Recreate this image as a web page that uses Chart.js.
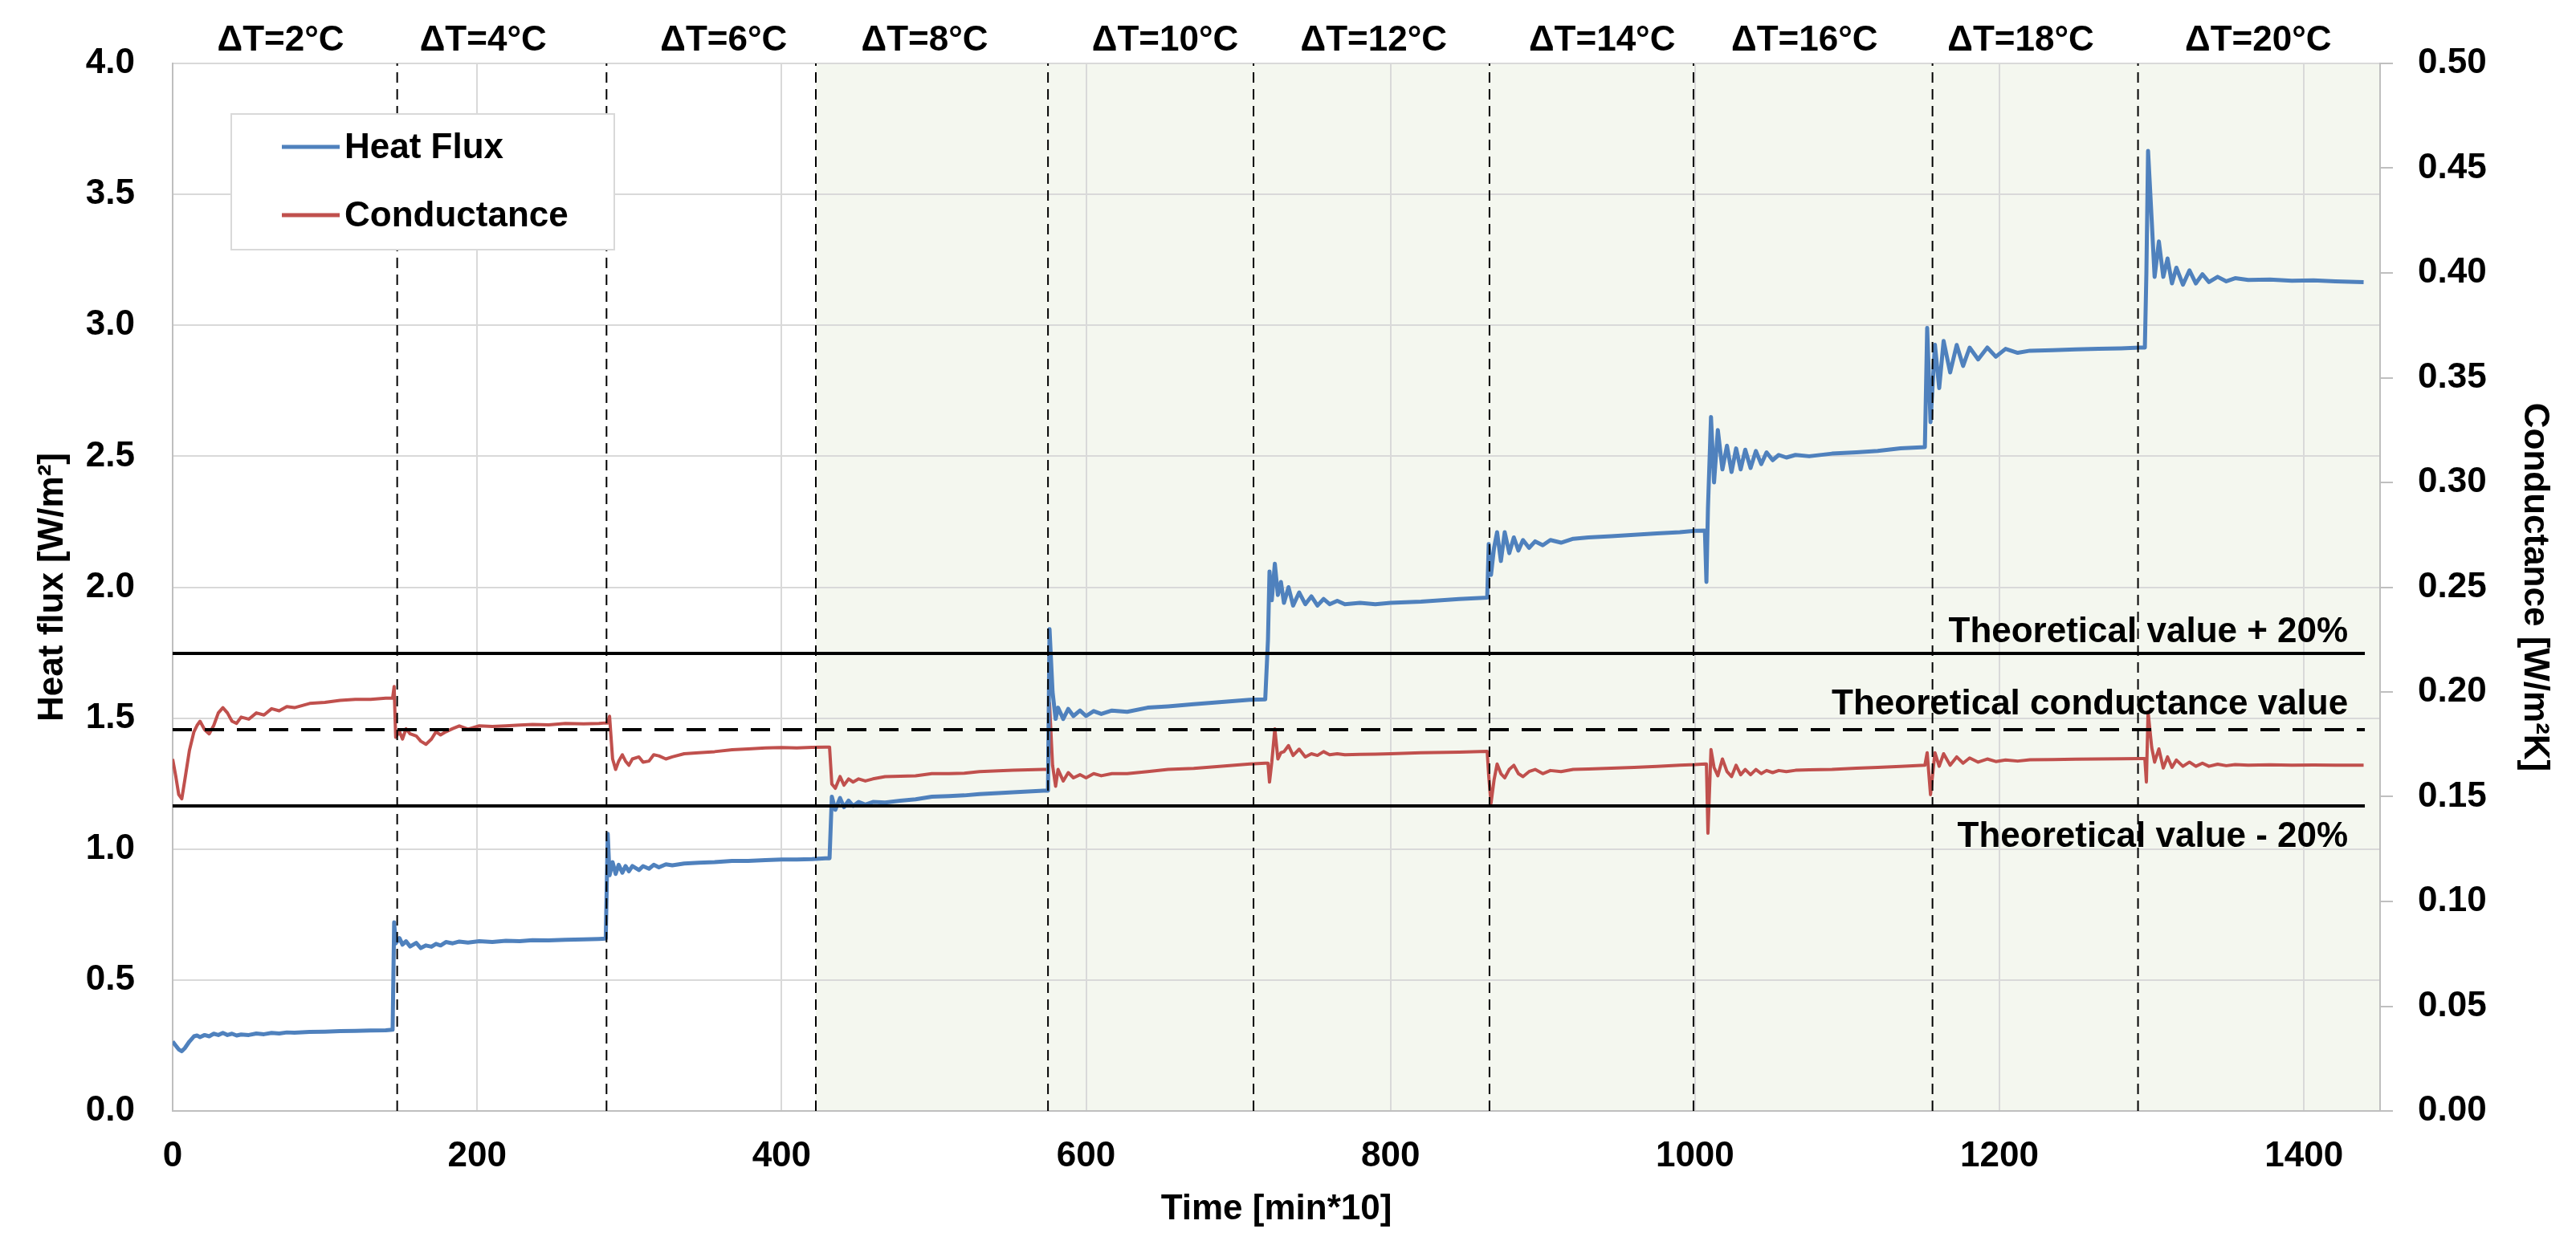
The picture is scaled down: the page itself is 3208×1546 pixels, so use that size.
<!DOCTYPE html>
<html>
<head>
<meta charset="utf-8">
<title>Heat flux and conductance</title>
<script src="https://cdn.jsdelivr.net/npm/chart.js@4.4.1/dist/chart.umd.min.js"></script>
<style>
  html, body { margin: 0; padding: 0; background: #fff; }
  #wrap { width: 3208px; height: 1546px; position: relative; }
</style>
</head>
<body>
<div id="wrap"><canvas id="chart"></canvas></div>
<script>
// time axis in [min*10], one row per ΔT step
const time = [
  0, 2, 4, 6, 8, 11, 14, 16, 18, 21, 24, 27, 30, 33, 36, 39, 42, 45, 50, 55, 60, 65, 70, 75, 80, 90, 100, 110, 120, 130, 140, 144.5,
  145.5, 146.5, 149, 151, 153.3, 156, 160, 163, 166.4, 170, 173, 176, 179.5, 184, 188.3, 194, 201.4, 210, 218.9, 228, 236.4, 247, 258, 270, 280, 284.5,
  285.8, 287, 289, 291, 293, 295.4, 297.5, 299.7, 302, 306.3, 309, 312.9, 316, 319.4, 324, 328.2, 336, 345.6, 356, 367.5, 378, 389.4, 400, 410, 420, 428.8, 431.5,
  433, 435.3, 438.4, 441, 444, 447, 450.6, 455, 460, 468, 478, 488, 498.7, 510, 520, 530, 542.4, 552, 562, 572, 575,
  576, 578, 580, 581.6, 585, 588.3, 591.7, 596, 600, 605, 610, 617, 627, 640.4, 653.9, 670.7, 687.6, 707.6, 717.7,
  719.5, 720.5, 722, 724, 726, 728, 730, 733, 736, 740, 744, 748, 752, 756, 760, 765, 770, 780, 790, 800, 820, 845, 863.5,
  864.5, 866, 868, 870, 872.5, 875, 878, 881, 884, 887, 891, 895, 900, 905, 912, 920, 930, 945, 960, 975, 990, 1000, 1006.5,
  1007.5, 1008.5, 1010.5, 1012.5, 1015, 1018, 1021, 1024, 1027, 1030, 1033, 1036.5, 1040, 1043.5, 1047, 1051, 1055, 1060, 1066, 1075, 1090, 1106, 1120, 1135, 1151,
  1152.5, 1154.7, 1157.6, 1160.4, 1163.3, 1167.6, 1171.9, 1176.1, 1180.4, 1186, 1192, 1197.6, 1204, 1212, 1220, 1235, 1250, 1265, 1280, 1292, 1295.5,
  1296.5, 1297.6, 1300, 1301.9, 1304.7, 1307.6, 1310.4, 1313.3, 1316.2, 1320.5, 1324.8, 1329, 1333.3, 1337.6, 1343.3, 1349, 1354.8, 1363.4, 1377.7, 1392, 1406.3, 1420.6, 1439.2
];

// heat flux [W/m2], left axis
const heatFlux = [
  0.265, 0.25, 0.235, 0.228, 0.24, 0.265, 0.285, 0.288, 0.282, 0.29, 0.285, 0.295, 0.29, 0.298, 0.29, 0.295, 0.288, 0.292, 0.29, 0.296, 0.293, 0.298, 0.296, 0.30, 0.299, 0.302, 0.303, 0.305, 0.306, 0.307, 0.308, 0.31,
  0.72, 0.64, 0.66, 0.635, 0.648, 0.628, 0.642, 0.622, 0.632, 0.627, 0.638, 0.632, 0.645, 0.64, 0.647, 0.643, 0.648, 0.645, 0.65, 0.648, 0.652, 0.651, 0.654, 0.655, 0.657, 0.658,
  1.058, 0.90, 0.95, 0.905, 0.94, 0.91, 0.935, 0.915, 0.935, 0.92, 0.935, 0.925, 0.94, 0.93, 0.942, 0.938, 0.945, 0.948, 0.95, 0.955, 0.955, 0.958, 0.96, 0.96, 0.962, 0.965, 0.965,
  1.20, 1.15, 1.195, 1.16, 1.185, 1.165, 1.18, 1.17, 1.18, 1.178, 1.185, 1.19, 1.20, 1.202, 1.205, 1.21, 1.214, 1.217, 1.22, 1.223, 1.223,
  1.84, 1.60, 1.497, 1.54, 1.497, 1.535, 1.508, 1.529, 1.508, 1.527, 1.516, 1.529, 1.524, 1.54, 1.545, 1.553, 1.561, 1.57, 1.572,
  1.80, 2.06, 1.95, 2.09, 1.97, 2.02, 1.94, 2.0, 1.93, 1.98, 1.935, 1.965, 1.93, 1.955, 1.935, 1.948, 1.935, 1.94, 1.935, 1.94, 1.945, 1.955, 1.96,
  2.165, 2.047, 2.15, 2.21, 2.10, 2.21, 2.13, 2.19, 2.14, 2.18, 2.15, 2.175, 2.16, 2.18, 2.17, 2.185, 2.19, 2.195, 2.2, 2.205, 2.21, 2.215, 2.216,
  2.02, 2.30, 2.65, 2.40, 2.60, 2.45, 2.54, 2.44, 2.53, 2.45, 2.525, 2.455, 2.52, 2.47, 2.515, 2.485, 2.505, 2.495, 2.505, 2.50, 2.51, 2.515, 2.52, 2.53, 2.535,
  2.99, 2.63, 2.926, 2.76, 2.94, 2.82, 2.925, 2.845, 2.915, 2.87, 2.915, 2.88, 2.91, 2.895, 2.903, 2.905, 2.908, 2.91, 2.912, 2.915, 2.915,
  3.2, 3.666, 3.40, 3.185, 3.32, 3.185, 3.255, 3.16, 3.22, 3.155, 3.21, 3.16, 3.195, 3.165, 3.185, 3.168, 3.18, 3.173, 3.175, 3.17, 3.172, 3.168, 3.165
];

// conductance [W/m2K], right axis
const conductance = [
  0.168, 0.160, 0.151, 0.149, 0.158, 0.172, 0.181, 0.184, 0.186, 0.182, 0.180, 0.184, 0.190, 0.1925, 0.19, 0.186, 0.185, 0.188, 0.187, 0.19, 0.189, 0.192, 0.191, 0.193, 0.1925, 0.1945, 0.195, 0.196, 0.1965, 0.1965, 0.197, 0.197,
  0.2026, 0.1784, 0.181, 0.1775, 0.1824, 0.180, 0.179, 0.1765, 0.175, 0.1775, 0.181, 0.1795, 0.181, 0.1825, 0.1838, 0.1822, 0.1838, 0.1835, 0.1838, 0.1842, 0.1845, 0.1843, 0.185, 0.1848, 0.185, 0.1852,
  0.1852, 0.1884, 0.168, 0.163, 0.167, 0.170, 0.167, 0.165, 0.168, 0.169, 0.1665, 0.167, 0.170, 0.1695, 0.168, 0.169, 0.1705, 0.171, 0.1715, 0.1724, 0.1728, 0.1733, 0.1735, 0.1733, 0.1736, 0.1737, 0.1737,
  0.156, 0.154, 0.1596, 0.1555, 0.1585, 0.157, 0.1585, 0.1575, 0.1585, 0.1596, 0.1598, 0.160, 0.161, 0.161, 0.1612, 0.162, 0.1624, 0.1626, 0.1628, 0.163, 0.163,
  0.1946, 0.165, 0.155, 0.163, 0.1575, 0.1615, 0.159, 0.1605, 0.159, 0.161, 0.160, 0.161, 0.161, 0.162, 0.163, 0.1635, 0.1645, 0.1656, 0.166,
  0.166, 0.157, 0.1665, 0.1824, 0.168, 0.171, 0.1715, 0.1744, 0.1697, 0.1727, 0.169, 0.1705, 0.1697, 0.1715, 0.170, 0.1705, 0.170, 0.1702, 0.1703, 0.1705, 0.171, 0.1713, 0.1716,
  0.160, 0.1468, 0.158, 0.1656, 0.161, 0.159, 0.163, 0.165, 0.161, 0.1596, 0.162, 0.163, 0.161, 0.1625, 0.162, 0.163, 0.1632, 0.1636, 0.164, 0.1645, 0.165, 0.1653, 0.1656,
  0.1656, 0.1326, 0.1725, 0.164, 0.160, 0.168, 0.162, 0.1596, 0.165, 0.1605, 0.163, 0.1605, 0.163, 0.161, 0.1625, 0.1615, 0.1625, 0.162, 0.1626, 0.1628, 0.163, 0.1636, 0.164, 0.1645, 0.165,
  0.171, 0.151, 0.171, 0.1645, 0.1705, 0.165, 0.169, 0.166, 0.1685, 0.1665, 0.168, 0.1668, 0.1675, 0.167, 0.1676, 0.1677, 0.1679, 0.168, 0.1681, 0.1682, 0.1682,
  0.157, 0.1905, 0.1735, 0.1665, 0.1728, 0.1637, 0.169, 0.164, 0.1675, 0.1645, 0.1665, 0.1645, 0.166, 0.1645, 0.1655, 0.1648, 0.1653, 0.165, 0.1652, 0.165, 0.1651, 0.165, 0.165
];

// ΔT steps: labels, where they sit, and the dashed boundaries between steps
const stepLabels = ['ΔT=2°C', 'ΔT=4°C', 'ΔT=6°C', 'ΔT=8°C', 'ΔT=10°C', 'ΔT=12°C', 'ΔT=14°C', 'ΔT=16°C', 'ΔT=18°C', 'ΔT=20°C'];
const stepLabelAt = [71, 204, 362, 494, 652, 789, 939, 1072, 1214, 1370];
const stepBounds = [147.5, 285, 422.5, 575, 710, 865, 999, 1156, 1291];
const shadeFrom = 422.5;

// theoretical conductance and the ±20% band
const theoretical = 0.182;
const band = 0.2;
const refSpan = [0, 1440];
const noteText = ['Theoretical value + 20%', 'Theoretical conductance value', 'Theoretical value - 20%'];
const noteAt = [0.2238, 0.1893, 0.1261];
const noteX = 1429;

const FONT = '"Liberation Sans", Arial, sans-serif';
const BLUE = '#4F81BD';
const RED = '#C0504D';

const refLine = v => refSpan.map(x => ({ x: x, y: v }));

const shadePlugin = {
  id: 'shade',
  beforeDraw(chart) {
    const { ctx, chartArea, scales } = chart;
    ctx.save();
    ctx.fillStyle = '#ffffff';
    ctx.fillRect(0, 0, chart.width, chart.height);
    const x0 = scales.x.getPixelForValue(shadeFrom);
    ctx.fillStyle = '#F4F7EF';
    ctx.fillRect(x0, chartArea.top, chartArea.right - x0, chartArea.bottom - chartArea.top);
    ctx.restore();
  }
};

const textPlugin = {
  id: 'texts',
  afterDraw(chart) {
    const { ctx, chartArea, scales } = chart;
    ctx.save();
    ctx.fillStyle = '#000';
    ctx.font = 'bold 44px ' + FONT;

    // ΔT labels above the plot
    ctx.textAlign = 'center';
    ctx.textBaseline = 'alphabetic';
    stepLabels.forEach((t, i) => {
      ctx.fillText(t, scales.x.getPixelForValue(stepLabelAt[i]), 63);
    });

    // notes for the reference lines
    ctx.textAlign = 'right';
    noteText.forEach((t, i) => {
      ctx.fillText(t, scales.x.getPixelForValue(noteX), scales.y2.getPixelForValue(noteAt[i]));
    });

    // legend box
    const lx = chartArea.left + 73, ly = chartArea.top + 63, lw = 477, lh = 169;
    ctx.fillStyle = '#fff';
    ctx.fillRect(lx, ly, lw, lh);
    ctx.strokeStyle = '#D9D9D9';
    ctx.lineWidth = 2;
    ctx.strokeRect(lx, ly, lw, lh);
    const items = chart.data.datasets.slice(0, 2);
    items.forEach((ds, i) => {
      const y = ly + 41 + i * 85;
      ctx.strokeStyle = ds.borderColor;
      ctx.lineWidth = 5;
      ctx.beginPath();
      ctx.moveTo(lx + 63, y);
      ctx.lineTo(lx + 135, y);
      ctx.stroke();
      ctx.fillStyle = '#000';
      ctx.textAlign = 'left';
      ctx.textBaseline = 'middle';
      ctx.fillText(ds.label, lx + 141, y + 2);
    });
    ctx.restore();
  }
};

const axisFont = { family: FONT, size: 44, weight: 'bold' };
const gridColor = '#D9D9D9';
const borderColor = '#BFBFBF';

new Chart(document.getElementById('chart'), {
  type: 'line',
  data: {
    datasets: [
      {
        label: 'Heat Flux',
        data: time.map((t, i) => ({ x: t, y: heatFlux[i] })),
        yAxisID: 'y',
        borderColor: BLUE,
        borderWidth: 5,
        pointRadius: 0,
        borderJoinStyle: 'round',
        order: 2
      },
      {
        label: 'Conductance',
        data: time.map((t, i) => ({ x: t, y: conductance[i] })),
        yAxisID: 'y2',
        borderColor: RED,
        borderWidth: 4,
        pointRadius: 0,
        borderJoinStyle: 'round',
        order: 3
      },
      {
        label: 'upper',
        data: refLine(theoretical * (1 + band)),
        yAxisID: 'y2',
        borderColor: '#000',
        borderWidth: 4,
        pointRadius: 0,
        order: 0
      },
      {
        label: 'theoretical',
        data: refLine(theoretical),
        yAxisID: 'y2',
        borderColor: '#000',
        borderWidth: 4,
        borderDash: [24, 16],
        pointRadius: 0,
        order: 0
      },
      {
        label: 'lower',
        data: refLine(theoretical * (1 - band)),
        yAxisID: 'y2',
        borderColor: '#000',
        borderWidth: 4,
        pointRadius: 0,
        order: 0
      },
      {
        label: 'steps',
        data: stepBounds.flatMap(b => [{ x: b, y: 0 }, { x: b, y: 4 }, { x: b, y: null }]),
        yAxisID: 'y',
        borderColor: '#000',
        borderWidth: 2,
        borderDash: [13, 8],
        pointRadius: 0,
        spanGaps: false,
        order: 1
      }
    ]
  },
  options: {
    responsive: true,
    maintainAspectRatio: false,
    animation: false,
    devicePixelRatio: 1,
    layout: { padding: { top: 79, left: 0, right: 0, bottom: 0 } },
    plugins: {
      legend: { display: false },
      tooltip: { enabled: false }
    },
    scales: {
      x: {
        type: 'linear',
        min: 0,
        max: 1450,
        ticks: { stepSize: 200, includeBounds: false, font: axisFont, color: '#000', padding: 30, maxRotation: 0, callback: v => String(v) },
        grid: { color: gridColor, lineWidth: 2, drawTicks: false },
        border: { color: borderColor, width: 2 },
        title: { display: true, text: 'Time [min*10]', font: axisFont, color: '#000', padding: { top: 0, bottom: 13 } },
        afterFit: s => { s.height = 162; }
      },
      y: {
        position: 'left',
        min: 0,
        max: 4,
        ticks: { stepSize: 0.5, font: axisFont, color: '#000', padding: 47, callback: v => v.toFixed(1) },
        grid: { color: gridColor, lineWidth: 2, drawTicks: false },
        border: { color: borderColor, width: 2 },
        title: { display: true, text: 'Heat flux [W/m²]', font: axisFont, color: '#000', padding: { top: 39, bottom: 0 } },
        afterFit: s => { s.width = 215; }
      },
      y2: {
        position: 'right',
        min: 0,
        max: 0.5,
        ticks: { stepSize: 0.05, font: axisFont, color: '#000', padding: 31, callback: v => v.toFixed(2) },
        grid: { drawOnChartArea: false, color: borderColor, lineWidth: 2, drawTicks: true, tickLength: 16 },
        border: { color: borderColor, width: 2 },
        title: { display: true, text: 'Conductance [W/m²K]', font: axisFont, color: '#000', padding: { top: 25, bottom: 0 } },
        afterFit: s => { s.width = 244; }
      }
    }
  },
  plugins: [shadePlugin, textPlugin]
});
</script>
</body>
</html>
